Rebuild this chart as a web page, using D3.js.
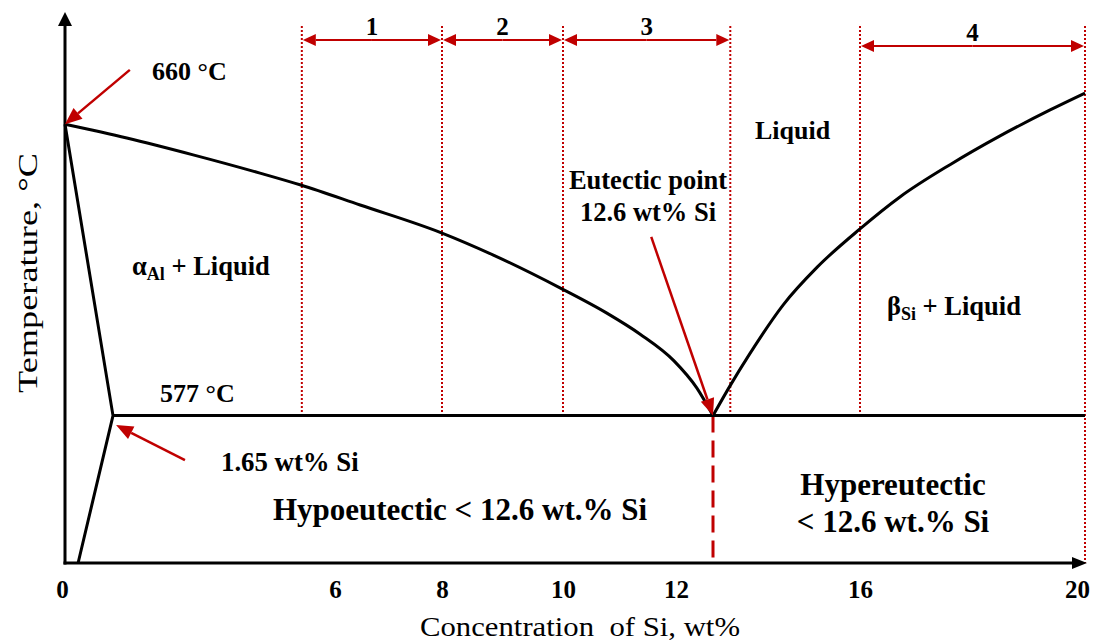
<!DOCTYPE html>
<html>
<head>
<meta charset="utf-8">
<script src="https://cdn.jsdelivr.net/npm/d3@7"></script>
<style>
  html, body { margin: 0; padding: 0; background: #fff; }
  svg text { font-family: "Liberation Serif", "Times New Roman", serif; fill: #000; }
</style>
</head>
<body>
<div id="chart-container"></div>
<script>
// Al-Si phase diagram (schematic)

// x-axis tick labels (wt% Si)
const tickValues = [0, 6, 8, 10, 12, 16, 20];

// liquidus on the Al side (wt% Si, °C)
const liqAlX = [0, 1.92, 3.22, 4.53, 5.33, 6.47, 8, 8.84, 9.95, 10.79, 11.39, 12.0, 12.35, 12.6];
const liqAlT = [660, 656.1, 651.3, 646.1, 642.7, 637.0, 629.0, 622.8, 613.4, 606.2, 600.2, 592.6, 584.9, 577];

// liquidus on the Si side
const liqSiX = [12.6, 12.99, 13.46, 14.22, 15.01, 16.0, 16.71, 17.6, 18.49, 19.38, 20];
const liqSiT = [577, 585.4, 594.8, 608.5, 619.3, 630.2, 639.3, 648.5, 656.7, 664.1, 668.9];

// solidus / solvus of alpha-Al
const solvusX = [0, 1.65, 0.45];
const solvusT = [660, 577, 535];

// eutectic line
const eutecticX = [1.65, 20];
const eutecticT = 577;
const eutecticPoint = 12.6;

// marked ranges at the top
const rangeNames = ['1', '2', '3', '4'];
const rangeStart = [5.35, 8, 10, 16];
const rangeEnd = [8, 10, 13, 20];
const rangeT = [684, 684, 684, 682.3];

const RED = '#c00000';

function renderChart() {
    const container = d3.select('#chart-container');
    container.selectAll('*').remove();

    const width = 1095;
    const height = 642;

    const svg = container.append('svg')
        .attr('width', width)
        .attr('height', height);

    // the drawing is schematic, so the x scale is piecewise
    const x = d3.scaleLinear()
        .domain([0, 1.65, 6, 8, 10, 12, 12.6, 16, 20])
        .range([65, 113, 335, 442, 563, 674, 713, 860, 1085]);

    const y = d3.scaleLinear()
        .domain([535, 692])
        .range([563, 12]);

    const tMin = 535, tTop = 688;

    // arrow helper: line from (x1,y1) to (x2,y2) with a filled head at the end
    function arrow(g, x1, y1, x2, y2, len, w, color, lw) {
        const a = Math.atan2(y2 - y1, x2 - x1);
        const bx = x2 - len * Math.cos(a), by = y2 - len * Math.sin(a);
        g.append('line')
            .attr('x1', x1).attr('y1', y1).attr('x2', bx).attr('y2', by)
            .attr('stroke', color).attr('stroke-width', lw);
        const px = -Math.sin(a) * w / 2, py = Math.cos(a) * w / 2;
        g.append('path')
            .attr('d', `M${x2},${y2}L${bx + px},${by + py}L${bx - px},${by - py}Z`)
            .attr('fill', color);
    }

    // dotted boundaries of the ranges
    const bounds = Array.from(new Set(rangeStart.concat(rangeEnd))).sort((a, b) => a - b);
    svg.selectAll('line.bound')
        .data(bounds)
        .enter()
        .append('line')
        .attr('class', 'bound')
        .attr('x1', d => x(d)).attr('x2', d => x(d))
        .attr('y1', y(tTop))
        .attr('y2', d => d === 20 ? y(tMin) : y(eutecticT))
        .attr('stroke', RED)
        .attr('stroke-width', 2)
        .attr('stroke-dasharray', '2,2');

    // double arrows + numbers
    const rg = svg.append('g');
    rangeNames.forEach((name, i) => {
        const x1 = x(rangeStart[i]) + 1, x2 = x(rangeEnd[i]) - 1, yy = y(rangeT[i]);
        const mid = (x1 + x2) / 2;
        arrow(rg, mid, yy, x2, yy, 13, 12, RED, 2);
        arrow(rg, mid, yy, x1, yy, 13, 12, RED, 2);
        rg.append('text')
            .attr('x', mid)
            .attr('y', yy - 5)
            .attr('text-anchor', 'middle')
            .style('font-size', '25px')
            .style('font-weight', 'bold')
            .text(name);
    });

    // eutectic vertical dashed line
    svg.append('line')
        .attr('x1', x(eutecticPoint)).attr('x2', x(eutecticPoint))
        .attr('y1', y(eutecticT)).attr('y2', y(tMin))
        .attr('stroke', RED)
        .attr('stroke-width', 3)
        .attr('stroke-dasharray', '17,8');

    // phase lines
    const line = d3.line().x(d => x(d[0])).y(d => y(d[1]));
    const smooth = d3.line().x(d => x(d[0])).y(d => y(d[1])).curve(d3.curveMonotoneX);

    svg.append('path')
        .attr('d', smooth(liqAlX.map((v, i) => [v, liqAlT[i]])))
        .attr('fill', 'none').attr('stroke', '#000').attr('stroke-width', 3);
    svg.append('path')
        .attr('d', smooth(liqSiX.map((v, i) => [v, liqSiT[i]])))
        .attr('fill', 'none').attr('stroke', '#000').attr('stroke-width', 3);
    svg.append('path')
        .attr('d', line(solvusX.map((v, i) => [v, solvusT[i]])))
        .attr('fill', 'none').attr('stroke', '#000').attr('stroke-width', 3)
        .attr('stroke-linejoin', 'miter');
    svg.append('path')
        .attr('d', line(eutecticX.map(v => [v, eutecticT])))
        .attr('fill', 'none').attr('stroke', '#000').attr('stroke-width', 3);

    // axes with arrow heads
    const ax = svg.append('g');
    ax.append('line')
        .attr('x1', x(0)).attr('x2', x(0))
        .attr('y1', y(tMin) + 1.5).attr('y2', 24)
        .attr('stroke', '#000').attr('stroke-width', 3);
    ax.append('path')
        .attr('d', `M${x(0)},12L${x(0) - 7},26L${x(0) + 7},26Z`)
        .attr('fill', '#000');
    ax.append('line')
        .attr('x1', x(0) - 1.5).attr('x2', 1074)
        .attr('y1', y(tMin)).attr('y2', y(tMin))
        .attr('stroke', '#000').attr('stroke-width', 3);
    ax.append('path')
        .attr('d', `M1087,${y(tMin)}L1072,${y(tMin) - 6}L1072,${y(tMin) + 6}Z`)
        .attr('fill', '#000');

    const xAxis = d3.axisBottom(x)
        .tickValues(tickValues)
        .tickSize(0)
        .tickPadding(0)
        .tickFormat(d3.format('d'));
    const xg = svg.append('g')
        .attr('transform', `translate(0,${y(tMin)})`)
        .call(xAxis);
    xg.select('.domain').remove();
    xg.selectAll('text')
        .attr('dy', 0)
        .attr('y', 35)
        .attr('dx', d => d === 0 ? -3 : (d === 20 ? -8 : (d === 12 ? 2 : 0)))
        .style('font-family', '"Liberation Serif", serif')
        .style('font-size', '25px')
        .style('font-weight', 'bold')
        .attr('fill', '#000');

    // axis titles
    svg.append('text')
        .attr('x', 580).attr('y', 636)
        .attr('text-anchor', 'middle')
        .style('font-size', '27px')
        .style('white-space', 'pre')
        .attr('textLength', 320)
        .attr('lengthAdjust', 'spacingAndGlyphs')
        .text('Concentration  of Si, wt%');
    svg.append('text')
        .attr('transform', 'translate(37,273) rotate(-90)')
        .attr('text-anchor', 'middle')
        .style('font-size', '28px')
        .attr('textLength', 240)
        .attr('lengthAdjust', 'spacingAndGlyphs')
        .text('Temperature, °C');

    // red annotation arrows
    const an = svg.append('g');
    arrow(an, x(1.98), y(675.5), x(0), y(660), 17, 14, RED, 2.5);
    arrow(an, x(3.06), y(564.3), x(1.71), y(574.3), 17, 14, RED, 2.5);
    arrow(an, x(11.59), y(627.9), x(12.6), y(577), 17, 14, RED, 2.5);

    // region labels
    function label(tx, ty, txt, size, anchor) {
        return svg.append('text')
            .attr('x', tx).attr('y', ty)
            .attr('text-anchor', anchor || 'start')
            .style('font-size', size + 'px')
            .style('font-weight', 'bold')
            .text(txt);
    }
    label(152, 80, '660 °C', 26);
    label(160, 402, '577 °C', 26);
    label(221, 471, '1.65 wt% Si', 26.8);
    label(460, 520, 'Hypoeutectic < 12.6 wt.% Si', 31, 'middle');
    label(893, 495, 'Hypereutectic', 31, 'middle');
    label(893, 532, '< 12.6 wt.% Si', 31, 'middle');
    label(648, 189, 'Eutectic point', 26.5, 'middle');
    label(648, 221, '12.6 wt% Si', 26.5, 'middle');
    label(755, 139, 'Liquid', 26);

    const aL = label(132, 275, '', 26.5);
    aL.append('tspan').text('α');
    aL.append('tspan').style('font-size', '18px').attr('dy', 5).text('Al');
    aL.append('tspan').attr('dy', -5).text(' + Liquid');

    const bL = label(887, 315, '', 26.5);
    bL.append('tspan').text('β');
    bL.append('tspan').style('font-size', '18px').attr('dy', 5).text('Si');
    bL.append('tspan').attr('dy', -5).text(' + Liquid');
}

renderChart();
</script>
</body>
</html>
